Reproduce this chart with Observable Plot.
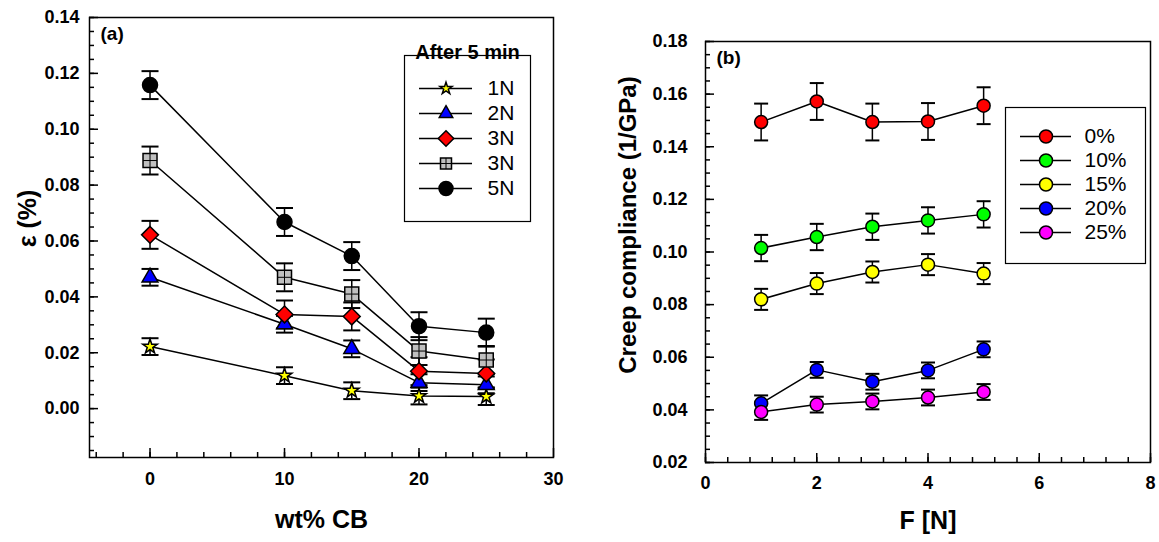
<!DOCTYPE html>
<html><head><meta charset="utf-8">
<script src="https://cdn.jsdelivr.net/npm/d3@7"></script>
<script src="https://cdn.jsdelivr.net/npm/@observablehq/plot@0.6"></script>
<style>
body{margin:0;background:#fff;}
#wrap{position:relative;width:1159px;height:542px;overflow:hidden;background:#fff;}
</style></head><body><div id="wrap"></div>
<script>
// ---------- Panel (a) data ----------
const cbContent = [0, 10, 15, 20, 25];
const seriesKeysA = ["1N", "2N", "3N", "3N-grey", "5N"];
const seriesLabelsA = ["1N", "2N", "3N", "3N", "5N"];
const strain1N = [0.0222, 0.0118, 0.0064, 0.0045, 0.0043];
const strain2N = [0.0470, 0.0302, 0.0214, 0.0093, 0.0085];
const strain3N = [0.0622, 0.0337, 0.0330, 0.0134, 0.0126];
const strain3Ngrey = [0.0888, 0.0470, 0.0410, 0.0206, 0.0174];
const strain5N = [0.1158, 0.0668, 0.0546, 0.0295, 0.0272];
const err1N = [0.003, 0.003, 0.003, 0.003, 0.003];
const err2N = [0.003, 0.003, 0.003, 0.003, 0.003];
const err3N = [0.005, 0.005, 0.005, 0.005, 0.005];
const err3Ngrey = [0.005, 0.005, 0.005, 0.005, 0.005];
const err5N = [0.005, 0.005, 0.005, 0.005, 0.005];
const xTicksA = [0, 10, 20, 30];
const yTicksA = [0.00, 0.02, 0.04, 0.06, 0.08, 0.10, 0.12, 0.14];

// ---------- Panel (b) data ----------
const forceN = [1, 2, 3, 4, 5];
const seriesKeysB = ["0%", "10%", "15%", "20%", "25%"];
const comp0 = [0.1494, 0.1572, 0.1494, 0.1496, 0.1556];
const comp10 = [0.1015, 0.1057, 0.1096, 0.1120, 0.1143];
const comp15 = [0.0820, 0.0880, 0.0924, 0.0952, 0.0918];
const comp20 = [0.0425, 0.0552, 0.0507, 0.0550, 0.0630];
const comp25 = [0.0392, 0.0420, 0.0432, 0.0447, 0.0468];
const errC0 = [0.007, 0.007, 0.007, 0.007, 0.007];
const errC10 = [0.005, 0.005, 0.005, 0.005, 0.005];
const errC15 = [0.004, 0.004, 0.004, 0.004, 0.004];
const errC20 = [0.003, 0.003, 0.003, 0.003, 0.003];
const errC25 = [0.003, 0.003, 0.003, 0.003, 0.003];
const xTicksB = [0, 2, 4, 6, 8];
const yTicksB = [0.02, 0.04, 0.06, 0.08, 0.10, 0.12, 0.14, 0.16, 0.18];

// ---------- styles ----------
const FONT = "'Liberation Sans', Arial, Helvetica, sans-serif";
const capSym = {draw(ctx, size) {const w = Math.sqrt(size / Math.PI); ctx.moveTo(-w, 0); ctx.lineTo(w, 0);}};
const squareSym = {draw(ctx, size) {const w = Math.sqrt(size / Math.PI); ctx.rect(-w, -w, 2 * w, 2 * w);}};
const plusSym = {draw(ctx, size) {const w = Math.sqrt(size / Math.PI); ctx.moveTo(-w, 0); ctx.lineTo(w, 0); ctx.moveTo(0, -w); ctx.lineTo(0, w);}};
const symbolsA = ["star", "triangle", "diamond2", squareSym, "circle"];
const fillsA = ["#ffff00", "#0000ff", "#ff0000", "#c0c0c0", "#000000"];
const radiiA = [4.6, 5.9, 7.6, 7, 7.5];
const legendRadiiA = [3.8, 5, 7, 5.5, 7];
const fillsB = ["#ff0000", "#00ff00", "#ffff00", "#0000ff", "#ff00ff"];

const wrap = document.getElementById("wrap");
function place(svg, left, top) {
  svg.style.position = "absolute"; svg.style.left = left + "px"; svg.style.top = top + "px";
  wrap.appendChild(svg);
}
const baseStyle = {fontFamily: FONT, fontSize: "18px", fontWeight: "bold", color: "black", background: "transparent", overflow: "visible"};

// ---------- rows ----------
const valuesA = [strain1N, strain2N, strain3N, strain3Ngrey, strain5N];
const errsA = [err1N, err2N, err3N, err3Ngrey, err5N];
const rowsA = seriesKeysA.flatMap((k, s) => cbContent.map((x, i) => ({series: k, s, x, y: valuesA[s][i], e: errsA[s][i]})));
const valuesB = [comp0, comp10, comp15, comp20, comp25];
const errsB = [errC0, errC10, errC15, errC20, errC25];
const rowsB = seriesKeysB.flatMap((k, s) => forceN.map((x, i) => ({series: k, s, x, y: valuesB[s][i], e: errsB[s][i]})));

function seriesMarks(rows, keys, symbols, fills, radii, capR) {
  const m = [Plot.line(rows, {x: "x", y: "y", z: "series", stroke: "black", strokeWidth: 1.5})];
  keys.forEach((k, s) => {
    const d = rows.filter(r => r.series === k);
    m.push(Plot.ruleX(d, {x: "x", y1: r => r.y - r.e, y2: r => r.y + r.e, stroke: "black", strokeWidth: 1.5}));
    m.push(Plot.dot(d, {x: "x", y: r => r.y + r.e, symbol: capSym, r: capR, fill: "none", stroke: "black", strokeWidth: 2}));
    m.push(Plot.dot(d, {x: "x", y: r => r.y - r.e, symbol: capSym, r: capR, fill: "none", stroke: "black", strokeWidth: 2}));
  });
  keys.forEach((k, s) => {
    const d = rows.filter(r => r.series === k);
    m.push(Plot.dot(d, {x: "x", y: "y", symbol: symbols[s], r: radii[s], fill: fills[s], stroke: "black", strokeWidth: 1.5}));
    if (symbols[s] === squareSym) m.push(Plot.dot(d, {x: "x", y: "y", symbol: plusSym, r: radii[s], fill: "none", stroke: "black", strokeWidth: 1}));
  });
  return m;
}

function axisMarks(xTicks, xMinor, yTicks, yMinor, yFmt, xPad, yPad) {
  return [
    Plot.axisY({ticks: yTicks, tickFormat: yFmt, tickSize: 0, tickPadding: yPad, label: null}),
    Plot.axisY({ticks: yTicks, tickSize: -9, fill: "none", strokeWidth: 1.5, label: null}),
    Plot.axisY({ticks: yMinor, tickSize: -5, fill: "none", strokeWidth: 1.5, label: null}),
    Plot.axisX({ticks: xTicks, tickFormat: d => d, tickSize: 0, tickPadding: xPad, label: null}),
    Plot.axisX({ticks: xTicks, tickSize: -9, fill: "none", strokeWidth: 1.5, label: null}),
    Plot.axisX({ticks: xMinor, tickSize: -5, fill: "none", strokeWidth: 1.5, label: null})
  ];
}

// ---------- Panel (a) ----------
const plotA = Plot.plot({
  width: 580, height: 542,
  marginLeft: 89, marginRight: 27, marginTop: 17, marginBottom: 85,
  x: {domain: [-4.5, 30]},
  y: {domain: [-0.0175, 0.14]},
  style: baseStyle,
  marks: [
    ...axisMarks(xTicksA, d3.range(-4, 30, 2), yTicksA, d3.range(-3, 29).map(i => i * 0.005), d3.format(".2f"), 15, 10),
    ...seriesMarks(rowsA, seriesKeysA, symbolsA, fillsA, radiiA, 8.5),
    Plot.frame({stroke: "black", strokeWidth: 1.5}),
    Plot.text(["(a)"], {frameAnchor: "top-left", dx: 11, dy: 9, textAnchor: "start", lineAnchor: "top", fontSize: 19, fontWeight: "bold"}),
    Plot.text(["wt% CB"], {frameAnchor: "bottom", dy: 70, fontSize: 25, fontWeight: "bold"}),
    Plot.text(["ε (%)"], {frameAnchor: "left", dx: -62, dy: -19, rotate: -90, textAnchor: "middle", fontSize: 25, fontWeight: "bold"})
  ]
});
place(plotA, 0, 0);

// legend (a)
const legA = Plot.plot({
  width: 128, height: 192, marginTop: 25, marginLeft: 1, marginRight: 1, marginBottom: 1,
  x: {domain: [0, 1], range: [16, 69], axis: null},
  y: {type: "point", domain: seriesKeysA, range: [58, 158], padding: 0, axis: null},
  style: baseStyle,
  marks: [
    Plot.frame({stroke: "black", strokeWidth: 1.2, fill: "white"}),
    Plot.text(["After 5 min"], {frameAnchor: "top", dy: -11, fontSize: 20, fontWeight: "bold"}),
    Plot.ruleY(seriesKeysA, {y: d => d, x1: () => 0, x2: () => 1, stroke: "black", strokeWidth: 1.5}),
    ...seriesKeysA.map((k, s) => Plot.dot([k], {x: () => 0.5, y: d => d, symbol: symbolsA[s], r: legendRadiiA[s], fill: fillsA[s], stroke: "black", strokeWidth: 1.5})),
    Plot.dot([seriesKeysA[3]], {x: () => 0.5, y: d => d, symbol: plusSym, r: legendRadiiA[3], fill: "none", stroke: "black", strokeWidth: 1}),
    Plot.text(seriesKeysA, {x: () => 1, y: d => d, text: (d, i) => seriesLabelsA[i], dx: 15, textAnchor: "start", fontSize: 21, fontWeight: "normal"})
  ]
});
place(legA, 403, 30);

// ---------- Panel (b) ----------
const plotB = Plot.plot({
  width: 579, height: 542,
  marginLeft: 125, marginRight: 9, marginTop: 41, marginBottom: 80,
  x: {domain: [0, 8]},
  y: {domain: [0.02, 0.18]},
  style: baseStyle,
  marks: [
    ...axisMarks(xTicksB, d3.range(0, 21).map(i => i * 0.4), yTicksB, d3.range(4, 37).map(i => i * 0.005), d3.format(".2f"), 14, 18),
    ...seriesMarks(rowsB, seriesKeysB, seriesKeysB.map(() => "circle"), fillsB, seriesKeysB.map(() => 6.5), 7),
    Plot.frame({stroke: "black", strokeWidth: 1.5}),
    Plot.text(["(b)"], {frameAnchor: "top-left", dx: 11, dy: 9, textAnchor: "start", lineAnchor: "top", fontSize: 19, fontWeight: "bold"}),
    Plot.text(["F [N]"], {frameAnchor: "bottom", dy: 66, fontSize: 25, fontWeight: "bold"}),
    Plot.text(["Creep compliance (1/GPa)"], {frameAnchor: "left", dx: -77, dy: -27, rotate: -90, textAnchor: "middle", fontSize: 24, fontWeight: "bold"})
  ]
});
place(plotB, 580, 0);

// legend (b)
const legB = Plot.plot({
  width: 142, height: 158, marginTop: 1, marginLeft: 1, marginRight: 1, marginBottom: 1,
  x: {domain: [0, 1], range: [16, 67], axis: null},
  y: {type: "point", domain: seriesKeysB, range: [29, 127.5], padding: 0, axis: null},
  style: baseStyle,
  marks: [
    Plot.frame({stroke: "black", strokeWidth: 1.2, fill: "white"}),
    Plot.ruleY(seriesKeysB, {y: d => d, x1: () => 0, x2: () => 1, stroke: "black", strokeWidth: 1.5}),
    Plot.dot(seriesKeysB, {x: () => 0.5, y: d => d, symbol: "circle", r: 6.5, fill: (d, i) => fillsB[i], stroke: "black", strokeWidth: 1.5}),
    Plot.text(seriesKeysB, {x: () => 1, y: d => d, dx: 13, textAnchor: "start", fontSize: 21, fontWeight: "normal"})
  ]
});
place(legB, 1004, 106);
</script></body></html>
